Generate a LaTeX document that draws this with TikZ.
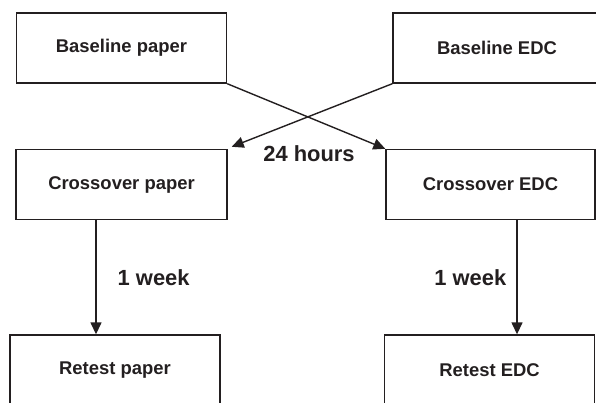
\documentclass[tikz,border=0pt]{standalone}
\usepackage{fontspec}
\setmainfont{Liberation Sans}
\usepackage{tikz}
\usetikzlibrary{
    arrows.meta,
    positioning
}
\definecolor{InkGray}{RGB}{35,31,32}

\begin{document}
\begin{tikzpicture}[
    x=1bp, y=-1bp,
    >={Triangle[length=12bp, width=11bp]},
    box/.style={draw=InkGray, line width=1.4bp, minimum width=210bp,
        minimum height=70bp, inner sep=0pt, text=InkGray,
        font=\bfseries\fontsize{18.5}{21}\selectfont},
    lbl/.style={text=InkGray, inner sep=0pt,
        font=\bfseries\fontsize{22}{25}\selectfont},
    arr/.style={->, line width=1.4bp, draw=InkGray}
]

\useasboundingbox (0,0) rectangle (596,402);
\clip (0,0) rectangle (596,402);

\node[box] (basepaper) at (121.5,48) {Baseline paper};
\node[box, minimum width=208bp] (baseedc) at (497,48) {Baseline EDC};

\node[box, minimum width=211bp] (crosspaper) at (121.5,184.5) {Crossover paper};
\node[box, minimum width=209bp] (crossedc) at (490.5,184.5) {Crossover EDC};

\node[box] (retestpaper) at (115,370) {Retest paper};
\node[box] (retestedc) at (489.5,370) {Retest EDC};

\coordinate (lx) at (96,0);
\coordinate (rx) at (517,0);

\draw[arr]
    (basepaper.south east) -- (crossedc.north west);

\draw[arr]
    (baseedc.south west) -- ([xshift=4bp, yshift=2bp]crosspaper.north east);

\node[lbl] (hours) at (309,154) {24 hours};

\draw[arr]
    (lx |- crosspaper.south) -- (lx |- retestpaper.north)
    node[midway, right=21bp, lbl] {1 week};

\draw[arr]
    (rx |- crossedc.south) -- (rx |- retestedc.north)
    node[midway, left=10bp, lbl] {1 week};

\end{tikzpicture}
\end{document}
